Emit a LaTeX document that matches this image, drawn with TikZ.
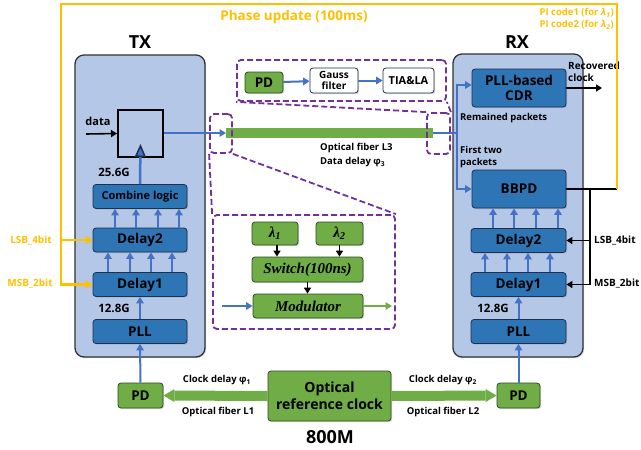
\documentclass[tikz,border=0pt]{standalone}
\usepackage{fontspec}
\setsansfont{Open Sans}
\newfontfamily\timesfont{Liberation Serif}
\usepackage{xcolor}
\usepackage{tikz}
\usetikzlibrary{arrows.meta,positioning,calc,shadows}

\definecolor{panelblue}{HTML}{B4C7E7}
\definecolor{blkblue}{HTML}{2E75B6}
\definecolor{navyedge}{HTML}{1F2F4F}
\definecolor{linkblue}{HTML}{4472C4}
\definecolor{optgreen}{HTML}{70AD47}
\definecolor{grnedge}{HTML}{2F4A1F}
\definecolor{phaseyellow}{HTML}{FFC000}
\definecolor{calloutpurple}{HTML}{7030A0}

\newcommand{\fs}[2]{\fontsize{#1}{#2}\selectfont}

\begin{document}
\begin{tikzpicture}[
 x=1pt,y=-1pt,font=\sffamily\bfseries,
 shade/.style={drop shadow={shadow xshift=1.2pt,shadow yshift=-1.2pt,opacity=0.3}},
 panel/.style={draw=black!80,fill=panelblue,line width=1.3pt,rounded corners=9pt,inner sep=0pt,shade},
 blk/.style={draw=navyedge,fill=blkblue,rounded corners=3pt,line width=0.8pt,inner sep=0pt,shade,
             minimum width=94pt,minimum height=24pt,align=center,font=\sffamily\bfseries\fs{13.5}{15}},
 grn/.style={draw=grnedge,fill=optgreen,rounded corners=3pt,line width=0.8pt,inner sep=0pt,align=center,shade},
 wbox/.style={draw=navyedge,fill=white,rounded corners=3pt,line width=0.8pt,inner sep=0pt,shade,
              align=center,minimum height=25pt},
 ital/.style={font=\timesfont\bfseries\itshape\fs{15}{17}},
 callout/.style={draw=calloutpurple,line width=1.8pt,dash pattern=on 6pt off 3pt,
                 rounded corners=4pt,inner sep=0pt},
 cline/.style={draw=calloutpurple,line width=1.8pt,dash pattern=on 6pt off 3pt},
 blink/.style={draw=linkblue,line width=2pt,-{Triangle[length=6.5pt,width=7.5pt]}},
 glink/.style={draw=optgreen,line width=2pt,-{Triangle[length=6.5pt,width=7.5pt]}},
 klink/.style={draw=black,line width=1.6pt,-{Triangle[length=6pt,width=7pt]}},
 ylink/.style={draw=phaseyellow,line width=2.4pt},
 fiber/.style={draw=optgreen,line width=10pt},
 lbl/.style={inner sep=0pt,font=\sffamily\bfseries\fs{9.5}{12}},
 ylbl/.style={lbl,text=phaseyellow,font=\sffamily\bfseries\fs{10}{12}}]
\useasboundingbox (0,0) rectangle (641,450);

% panels
\node[panel,minimum width=130pt,minimum height=302pt] (txpanel) at (140,206) {};
\node[panel,minimum width=130pt,minimum height=303pt] (rxpanel) at (518,205.5) {};
\node[font=\sffamily\bfseries\fs{18}{20}] (txlbl) at (140,42) {TX};
\node[font=\sffamily\bfseries\fs{18}{20}] (rxlbl) at (517,42) {RX};

% TX chain
\node[draw=black,line width=2pt,fill=panelblue,minimum width=45pt,minimum height=47pt,
      inner sep=0pt,shade] (ff) at (140.5,133.5) {};
\node[lbl,font=\sffamily\bfseries\fs{11}{13}] (data) at (98,121) {data};
\coordinate (datain) at (86,134);
\node[lbl,font=\sffamily\bfseries\fs{11.5}{13}] (rate1) at (114,172) {25.6G};
\node[blk,font=\sffamily\bfseries\fs{11}{13}] (comb) at (140,196.5) {Combine logic};
\node[blk] (dly2tx) at (140,240) {Delay2};
\node[blk] (dly1tx) at (140,284.5) {Delay1};
\node[lbl,font=\sffamily\bfseries\fs{11.5}{13}] (rate2) at (114,308) {12.8G};
\node[blk] (plltx) at (140,331.5) {PLL};
\node[grn,minimum width=45pt,minimum height=25pt,font=\sffamily\bfseries\fs{13.5}{15}] (pdtx) at (140.5,395.5) {PD};

\draw[klink] (datain) -- (ff.west);
\draw[draw=linkblue,line width=2.5pt,
      -{Triangle[length=13pt,width=11pt,line width=1.5pt,color=navyedge,fill=linkblue]}]
 (comb.north) -- ([yshift=14pt]ff.south);
\foreach \x in {115,136,158,179}
 \draw[blink] (\x,0 |- dly2tx.north) -- (\x,0 |- comb.south);
\foreach \x in {108,130,151,172}
 \draw[blink] (\x,0 |- dly1tx.north) -- (\x,0 |- dly2tx.south);
\draw[blink] (plltx.north) -- (dly1tx.south);
\draw[blink] (pdtx.north) -- (plltx.south);

% RX chain
\node[blk,minimum height=38pt] (cdr) at (519,88) {PLL-based\\CDR};
\node[blk,minimum height=38pt] (bbpd) at (519,189) {BBPD};
\node[blk,minimum width=95pt] (dly2rx) at (518.5,240.5) {Delay2};
\node[blk,minimum width=95pt] (dly1rx) at (518.5,284.5) {Delay1};
\node[lbl,font=\sffamily\bfseries\fs{11.5}{13}] (rate3) at (493,308) {12.8G};
\node[blk,minimum width=95pt] (pllrx) at (518.5,331.5) {PLL};
\node[grn,minimum width=43pt,minimum height=25pt,font=\sffamily\bfseries\fs{13.5}{15}] (pdrx) at (518.5,395.5) {PD};
\node[lbl,anchor=west,align=left,font=\sffamily\bfseries\fs{10}{12}] (recov) at (568,72) {Recovered\\clock};
\coordinate (clkout) at (602,88);
\node[lbl,anchor=west] (remain) at (460,118) {Remained packets};
\node[lbl,anchor=west,align=left] (first) at (460,157) {First two\\packets};

\draw[klink] (cdr.east) -- (clkout);
\foreach \x in {493,514,536,558}
 \draw[blink] (\x,0 |- dly2rx.north) -- (\x,0 |- bbpd.south);
\foreach \x in {485,507,528,550}
 \draw[blink] (\x,0 |- dly1rx.north) -- (\x,0 |- dly2rx.south);
\draw[blink] (pllrx.north) -- (dly1rx.south);
\draw[blink] (pdrx.north) -- (pllrx.south);

% data fiber L3
\coordinate (f3a) at (226,133);
\coordinate (f3b) at (433,133);
\coordinate (split) at (457,133);
\draw[fiber] (f3a) -- (f3b);
\draw[blink] (ff.east |- f3a) -- (f3a);
\draw[draw=linkblue,line width=2pt] (f3b) -- (split);
\draw[blink] (split) |- ([yshift=3pt]cdr.west);
\draw[blink] (split) |- (bbpd.west);
\node[lbl,anchor=west,align=left,font=\sffamily\bfseries\fs{9.5}{14}] (l3lbl) at (320,155)
 {Optical fiber L3\\Data delay φ\textsubscript{3}};

% phase update loop
\coordinate (fbk) at (617,189);
\coordinate (ytr) at (617,4);
\coordinate (ytl) at (61,4);
\coordinate (bsplit) at (590,189);
\draw[draw=black,line width=1.6pt] (bbpd.east) -- (fbk);
\draw[klink] (bsplit) |- (dly1rx.east);
\draw[klink] (bsplit |- dly2rx.east) -- (dly2rx.east);
\draw[ylink,-{Triangle[length=7pt,width=8pt]}] (fbk) -- (ytr) -- (ytl) |- (dly1tx.west);
\draw[ylink,-{Triangle[length=7pt,width=8pt]}] (ytl |- dly2tx.west) -- (dly2tx.west);
\node[ylbl,font=\sffamily\bfseries\fs{13.5}{15}] (phase) at (294,17) {Phase update (100ms)};
\node[ylbl,anchor=east,align=right,font=\sffamily\bfseries\fs{9.5}{12}] (picode) at (614,19)
 {PI code1 (for \textit{λ}\textsubscript{\textit{1}})\\PI code2 (for \textit{λ}\textsubscript{\textit{2}})};
\node[ylbl] (lsbtx) at (31,240) {LSB\_4bit};
\node[ylbl] (msbtx) at (30,283) {MSB\_2bit};
\node[lbl,anchor=west,font=\sffamily\bfseries\fs{10}{12}] (lsbrx) at (594,240) {LSB\_4bit};
\node[lbl,anchor=west,font=\sffamily\bfseries\fs{10}{12}] (msbrx) at (594,283) {MSB\_2bit};

% receiver callout
\node[callout,minimum width=209pt,minimum height=41pt] (rcall) at (341.5,80.5) {};
\node[grn,minimum width=38pt,minimum height=21pt,font=\sffamily\bfseries\fs{13.5}{15}] (pdrcv) at (264,82.5) {PD};
\node[wbox,minimum width=48pt,font=\sffamily\bfseries\fs{10}{11}] (gauss) at (334,80.5) {Gauss\\filter};
\node[wbox,minimum width=51pt,font=\sffamily\bfseries\fs{11}{13}] (tia) at (408.5,80.5) {TIA\&LA};
\draw[blink] (pdrcv) -- (gauss);
\draw[blink] (gauss) -- (tia);
\node[callout,minimum width=23pt,minimum height=41pt] (rtap) at (438.5,133.5) {};
\draw[cline] (rtap.north west) -- (rcall.south west);
\draw[cline] (rtap.north east) -- (rcall.south east);

% transmitter callout
\node[callout,minimum width=22pt,minimum height=39pt] (ttap) at (221,133.5) {};
\node[callout,minimum width=182pt,minimum height=114pt] (tcall) at (304,272) {};
\draw[cline] (ttap.south west) -- (tcall.north west);
\draw[cline] (ttap.south east) -- (tcall.north east);
\node[grn,minimum width=46pt,minimum height=23pt,ital] (lam1) at (275,233.5) {λ\textsubscript{1}};
\node[grn,minimum width=47pt,minimum height=23pt,ital] (lam2) at (339.5,233.5) {λ\textsubscript{2}};
\node[grn,minimum width=111pt,minimum height=25pt,ital] (sw) at (307.5,269.5) {Switch(100ns)};
\node[grn,minimum width=110pt,minimum height=24pt,ital] (mod) at (308,306) {Modulator};
\coordinate (modin) at (222,306);
\coordinate (modout) at (392,306);
\draw[klink] (lam1.south -| 277,0) -- (sw.north -| 277,0);
\draw[klink] (lam2.south) -- (lam2.south |- sw.north);
\draw[klink] (sw.south) -- (sw.south |- mod.north);
\draw[blink] (modin) -- (mod.west);
\draw[glink] (mod.east) -- (modout);

% optical reference clock
\node[grn,minimum width=123pt,minimum height=50pt,font=\sffamily\bfseries\fs{14}{17}] (clock) at (329.5,396)
 {Optical\\reference clock};
\node[font=\sffamily\bfseries\fs{18}{20}] (freq) at (330,437) {800M};
\draw[fiber,-{Triangle[length=11pt,width=13pt,line width=0pt]}] (clock.west) -- (pdtx.east);
\draw[fiber,-{Triangle[length=11pt,width=13pt,line width=0pt]}] (clock.east) -- (pdrx.west);
\node[lbl] (d1) at (217,380) {Clock delay φ\textsubscript{1}};
\node[lbl] (l1) at (218,412) {Optical fiber L1};
\node[lbl] (d2) at (443,380) {Clock delay φ\textsubscript{2}};
\node[lbl] (l2) at (443,412) {Optical fiber L2};
\end{tikzpicture}
\end{document}
